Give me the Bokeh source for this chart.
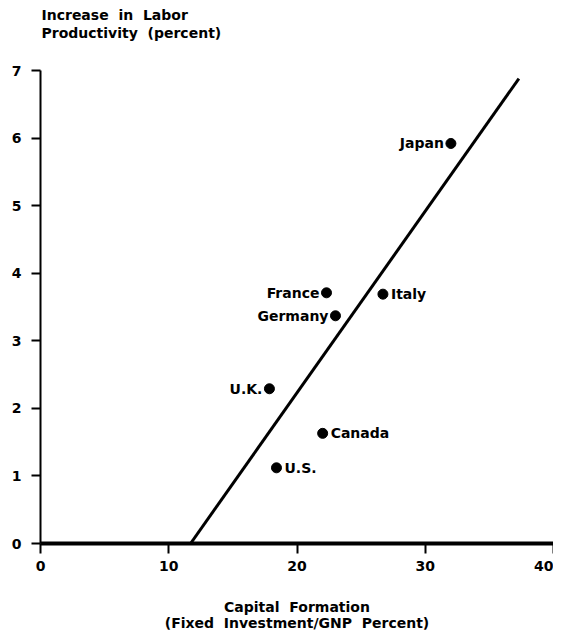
from bokeh.plotting import figure
from bokeh.models import ColumnDataSource, FixedTicker, Range1d, LabelSet, Label
from bokeh.core.properties import value
from bokeh.embed import file_html
from bokeh.resources import INLINE

# ---- data ----
countries = ["Japan", "France", "Italy", "Germany", "U.K.", "Canada", "U.S."]
capital_formation = [32.0, 22.3, 26.7, 23.0, 17.85, 22.0, 18.4]      # fixed investment / GNP, percent
productivity_growth = [5.92, 3.71, 3.69, 3.37, 2.29, 1.63, 1.12]      # increase in labor productivity, percent
label_side = ["left", "left", "right", "left", "left", "right", "right"]

fit_x = [11.7, 37.3]
fit_y = [0.0, 6.88]

x_ticks = [0, 10, 20, 30, 40]
y_ticks = [0, 1, 2, 3, 4, 5, 6, 7]

NB = "\u00a0 "
title_lines = ["Increase" + NB + "in" + NB + "Labor", "Productivity" + NB + "(percent)"]
xlabel_text = "Capital" + NB + "Formation\n(Fixed" + NB + "Investment/GNP" + NB + "Percent)"

FONT = "DejaVu Sans"

# frame reaches the top of the canvas so the heading can sit inside it;
# the y axis line itself is bounded to 0..7
Y_TOP = 543 / (473 / 7)

p = figure(frame_width=513, frame_height=543, output_backend="svg", toolbar_location=None,
           x_range=Range1d(0, 40), y_range=Range1d(0, Y_TOP),
           min_border_left=40, min_border_right=0, min_border_top=0, min_border_bottom=87)
p.outline_line_color = None
p.xgrid.visible = False
p.ygrid.visible = False
p.background_fill_color = "white"
p.border_fill_color = "white"

# axes
for ax in (p.xaxis, p.yaxis):
    ax.major_label_text_font = FONT
    ax.major_label_text_font_style = "bold"
    ax.major_label_text_font_size = "14px"
    ax.major_label_text_color = "black"
    ax.axis_line_color = "black"
    ax.major_tick_line_color = "black"
    ax.major_tick_line_width = 2
    ax.major_tick_in = 0
    ax.minor_tick_line_color = None
p.xaxis.ticker = FixedTicker(ticks=x_ticks)
p.yaxis.ticker = FixedTicker(ticks=y_ticks)
p.yaxis.bounds = (0, 7)
p.xaxis.axis_line_width = 4
p.xaxis.major_tick_out = 10
p.xaxis.major_label_standoff = 7
p.yaxis.axis_line_width = 2
p.yaxis.major_tick_out = 9
p.yaxis.major_label_standoff = 10

p.xaxis.axis_label = xlabel_text
p.xaxis.axis_label_standoff = 25
p.xaxis.axis_label_text_font = FONT
p.xaxis.axis_label_text_font_style = "bold"
p.xaxis.axis_label_text_font_size = "14px"
p.xaxis.axis_label_text_color = "black"
p.xaxis.axis_label_text_line_height = 1.0

# heading (top-left)
for i, t in enumerate(title_lines):
    p.add_layout(Label(x=0, y=7.814 - 0.266 * i, x_offset=1, text=t, text_align="left",
                       text_baseline="middle", text_font=FONT, text_font_style="bold",
                       text_font_size="14px", text_color="black"))

# regression line
p.line(fit_x, fit_y, line_color="black", line_width=3)

# points
src = ColumnDataSource(dict(
    x=capital_formation, y=productivity_growth, name=countries,
    align=[("right" if s == "left" else "left") for s in label_side],
    xoff=[(-7 if s == "left" else 8) for s in label_side],
))
p.scatter("x", "y", source=src, size=10, color="black")

labels = LabelSet(x="x", y="y", text="name", source=src, x_offset="xoff",
                  text_align="align", text_baseline="middle",
                  text_font=value(FONT), text_font_style="bold",
                  text_font_size="14px", text_color="black")
p.add_layout(labels)

open("out.html", "w").write(file_html(p, INLINE))
